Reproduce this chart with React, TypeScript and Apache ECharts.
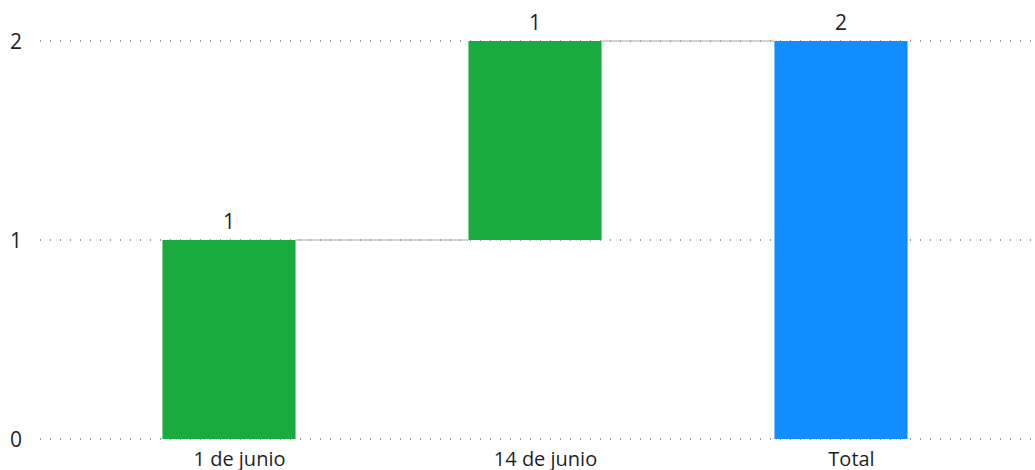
import React, { useEffect, useRef } from "react";
import * as echarts from "echarts";

const categories = ["1 de junio", "14 de junio", "Total"];
const changes = [1, 1, 2];
const isTotal = [false, false, true];
const yTicks = [0, 1, 2];

const GREEN = "#1AAB40";
const BLUE = "#118DFF";
const FONT = "'Open Sans', 'Noto Sans', Arial, sans-serif";

export default function App() {
  const ref = useRef<HTMLDivElement>(null);
  useEffect(() => {
    document.body.style.margin = "0";
    if (!ref.current) return;
    const chart = echarts.init(ref.current, null, { renderer: "svg" });

    const base: number[] = [];
    const tops: number[] = [];
    let cum = 0;
    changes.forEach((v, i) => {
      if (isTotal[i]) {
        base.push(0);
        tops.push(v);
      } else {
        base.push(cum);
        cum += v;
        tops.push(cum);
      }
    });
    const connectors = tops.slice(0, -1).map((t, i) => [i, t]);
    const barFrac = 0.435;

    chart.setOption({
      animation: false,
      grid: [
        { left: 38, right: 0, top: 41, bottom: 31 },
        { left: 76, right: 41, top: 41, bottom: 31 },
      ],
      xAxis: [
        { type: "value", gridIndex: 0, show: false, min: 0, max: 1 },
        {
          type: "category",
          gridIndex: 1,
          data: categories,
          axisLine: { show: false },
          axisTick: { show: false },
          axisLabel: {
            color: "#1f1f1f",
            fontSize: 20,
            fontFamily: FONT,
            margin: 9,
            padding: [0, 0, 0, 21],
          },
        },
      ],
      yAxis: [
        {
          type: "value",
          gridIndex: 0,
          min: yTicks[0],
          max: yTicks[yTicks.length - 1],
          interval: 1,
          axisLine: { show: false },
          axisTick: { show: false },
          axisLabel: {
            color: "#1f1f1f",
            fontSize: 21,
            fontFamily: FONT,
            margin: 16,
          },
          splitLine: {
            lineStyle: { color: "#9a9a9a", type: [1, 9], width: 2, dashOffset: 8 },
          },
        },
        {
          type: "value",
          gridIndex: 1,
          min: yTicks[0],
          max: yTicks[yTicks.length - 1],
          show: false,
        },
      ],
      series: [
        {
          type: "bar",
          xAxisIndex: 1,
          yAxisIndex: 1,
          stack: "w",
          barWidth: barFrac * 100 + "%",
          itemStyle: { color: "transparent" },
          data: base,
          silent: true,
        },
        {
          type: "bar",
          xAxisIndex: 1,
          yAxisIndex: 1,
          stack: "w",
          barWidth: barFrac * 100 + "%",
          data: changes.map((v, i) => ({
            value: v,
            itemStyle: { color: isTotal[i] ? BLUE : GREEN },
          })),
          label: {
            show: true,
            position: "top",
            distance: 9,
            color: "#1f1f1f",
            fontSize: 21,
            fontFamily: FONT,
          },
        },
        {
          type: "custom",
          xAxisIndex: 1,
          yAxisIndex: 1,
          data: connectors,
          silent: true,
          z: 5,
          renderItem: (params: any, api: any) => {
            const i = api.value(0);
            const y = api.value(1);
            const s = api.coord([i, y]);
            const e = api.coord([i + 1, y]);
            const w = api.size([1, 0])[0] * barFrac;
            return {
              type: "line",
              shape: {
                x1: s[0] + w / 2,
                y1: s[1],
                x2: e[0] - w / 2,
                y2: e[1],
              },
              style: { stroke: "#a8a8a8", lineWidth: 1 },
            };
          },
        },
      ],
    });
    return () => chart.dispose();
  }, []);
  return <div ref={ref} style={{ width: 1035, height: 470 }} />;
}
